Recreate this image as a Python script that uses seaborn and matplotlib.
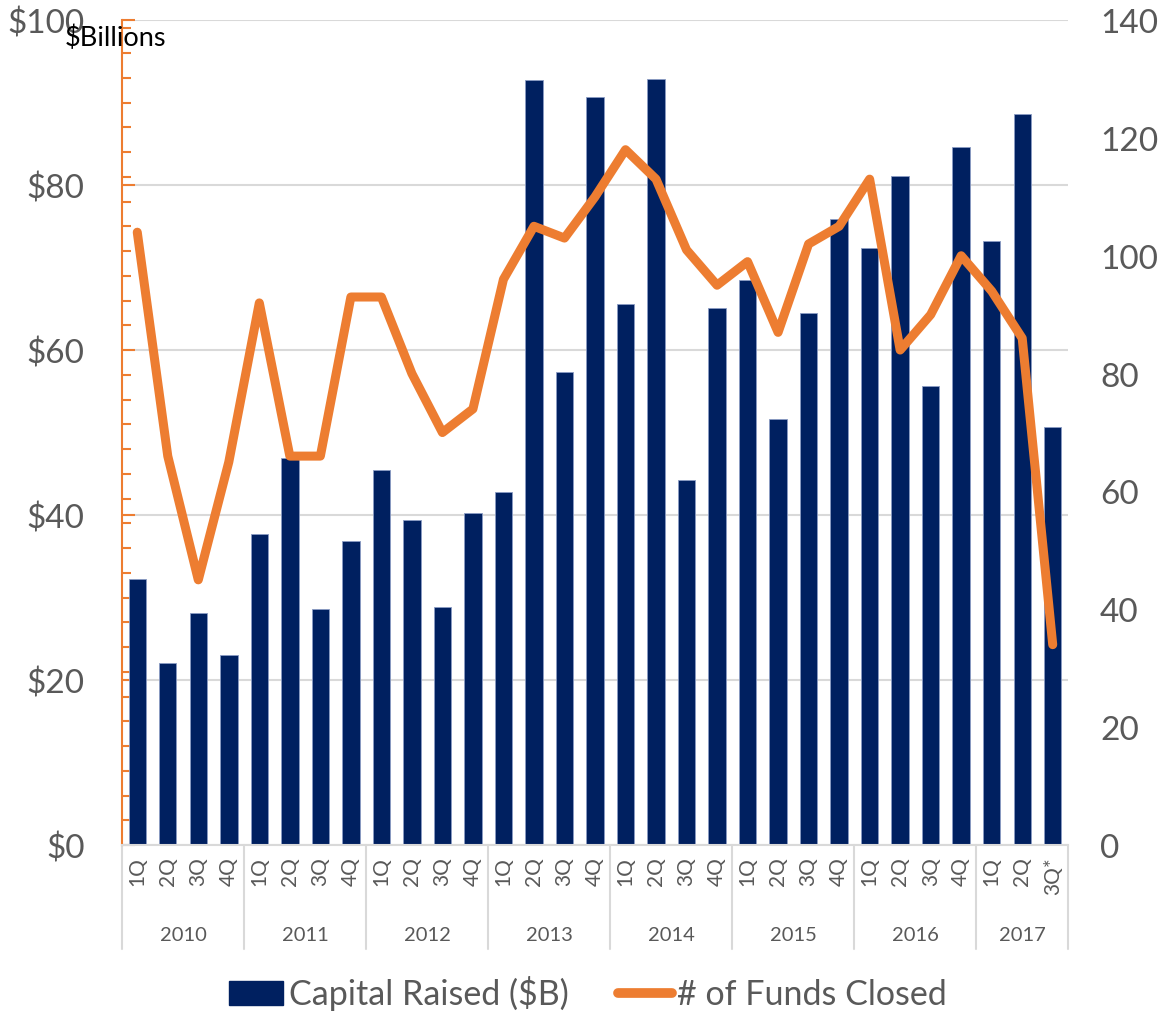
import numpy as np
import pandas as pd
import matplotlib.pyplot as plt
import seaborn as sns
from matplotlib.ticker import MultipleLocator
from matplotlib.patches import Patch
from matplotlib.lines import Line2D

# data
years = ["2010", "2011", "2012", "2013", "2014", "2015", "2016", "2017"]
quarters_per_year = [4, 4, 4, 4, 4, 4, 4, 3]
quarter_labels = ["1Q", "2Q", "3Q", "4Q"] * 7 + ["1Q", "2Q", "3Q*"]
capital = [32.3, 22.1, 28.1, 23.0, 37.7, 46.9, 28.6, 36.8, 45.5, 39.4, 28.8, 40.3,
           42.8, 92.7, 57.3, 90.7, 65.6, 92.8, 44.2, 65.1, 68.5, 51.6, 64.5, 75.9,
           72.4, 81.1, 55.6, 84.6, 73.2, 88.6, 50.7]
funds = [104, 66, 45, 65, 92, 66, 66, 93, 93, 80, 70, 74, 96, 105, 103, 110,
         118, 113, 101, 95, 99, 87, 102, 105, 113, 84, 90, 100, 94, 86, 34]
left_ticks = [0, 20, 40, 60, 80, 100]
right_ticks = [0, 20, 40, 60, 80, 100, 120, 140]

NAVY = "#002060"
ORANGE = "#ED7D31"
GRAY = "#595959"
GRID = "#d9d9d9"

sns.set_style("white")
plt.rcParams['font.family'] = ['Lato', 'DejaVu Sans']

year_col = [y for y, n in zip(years, quarters_per_year) for _ in range(n)]
df = pd.DataFrame({
    "period": [f"{y} {q}" for y, q in zip(year_col, quarter_labels)],
    "capital": capital,
    "funds": funds,
})
n = len(df)

fig = plt.figure(figsize=(11.63, 10.12), dpi=100)
ax = fig.add_axes([0.1049, 0.164, 0.8134, 0.8152])

sns.barplot(data=df, x="period", y="capital", color=NAVY, width=0.57, saturation=1,
            edgecolor="#8a9cc4", linewidth=0.6, ax=ax)

ax2 = ax.twinx()
sns.lineplot(x=np.arange(n), y=df["funds"], ax=ax2, color=ORANGE, lw=6.5,
             solid_capstyle="round", solid_joinstyle="round", legend=False)

ax.set_xlim(-0.5, n - 0.5)
ax.set_ylim(0, 100)
ax2.set_ylim(0, 140)

ax.set_yticks(left_ticks)
ax.set_yticklabels([f"${v}" for v in left_ticks])
ax.yaxis.set_minor_locator(MultipleLocator(3))
ax.tick_params(axis="y", which="major", direction="in", length=9, width=1.5,
               color=ORANGE, pad=27, labelsize=24, labelcolor=GRAY)
ax.tick_params(axis="y", which="minor", direction="in", length=6.5, width=1.5, color=ORANGE)
ax.grid(axis="y", color=GRID, lw=1.5)
ax.set_axisbelow(True)

ax2.set_yticks(right_ticks)
ax2.tick_params(axis="y", length=0, pad=23, labelsize=24, labelcolor=GRAY)
ax2.grid(False)

ax.set_xticks(range(n))
ax.set_xticklabels(quarter_labels, rotation=90)
ax.tick_params(axis="x", length=0, pad=8, labelsize=15, labelcolor=GRAY)

ax.set_xlabel("")
ax.set_ylabel("")
ax2.set_ylabel("")

for a in (ax, ax2):
    a.spines["top"].set_visible(False)
    a.spines["right"].set_visible(False)
ax2.spines["left"].set_visible(False)
ax2.spines["bottom"].set_visible(False)
ax.spines["left"].set_color(ORANGE)
ax.spines["left"].set_linewidth(1.5)
ax.spines["bottom"].set_color(GRID)
ax.spines["bottom"].set_linewidth(1.5)

# year groups under the quarter labels
trans = ax.get_xaxis_transform()
bounds = np.concatenate([[0], np.cumsum(quarters_per_year)]) - 0.5
for b in bounds:
    ax.plot([b, b], [0, -0.126], transform=trans, clip_on=False, color=GRID, lw=1.5)
for y, lo, hi in zip(years, bounds[:-1], bounds[1:]):
    ax.text((lo + hi) / 2, -0.109, y, transform=trans, ha="center", va="center",
            fontsize=14.5, color=GRAY)

fig.text(65 / 1163, 1 - 38 / 1012, "$Billions", ha="left", va="center", fontsize=19.5, color="black")

handles = [Patch(facecolor=NAVY, edgecolor=NAVY),
           Line2D([0], [0], color=ORANGE, lw=7, solid_capstyle="round")]
fig.legend(handles, ["Capital Raised ($B)", "# of Funds Closed"], loc="center",
           bbox_to_anchor=(0.5056, 1 - 994 / 1012), ncol=2, frameon=False, fontsize=24.5,
           labelcolor=GRAY, handlelength=1.6, handletextpad=0.15, columnspacing=1.45)

fig.savefig("out.png", dpi=100)
